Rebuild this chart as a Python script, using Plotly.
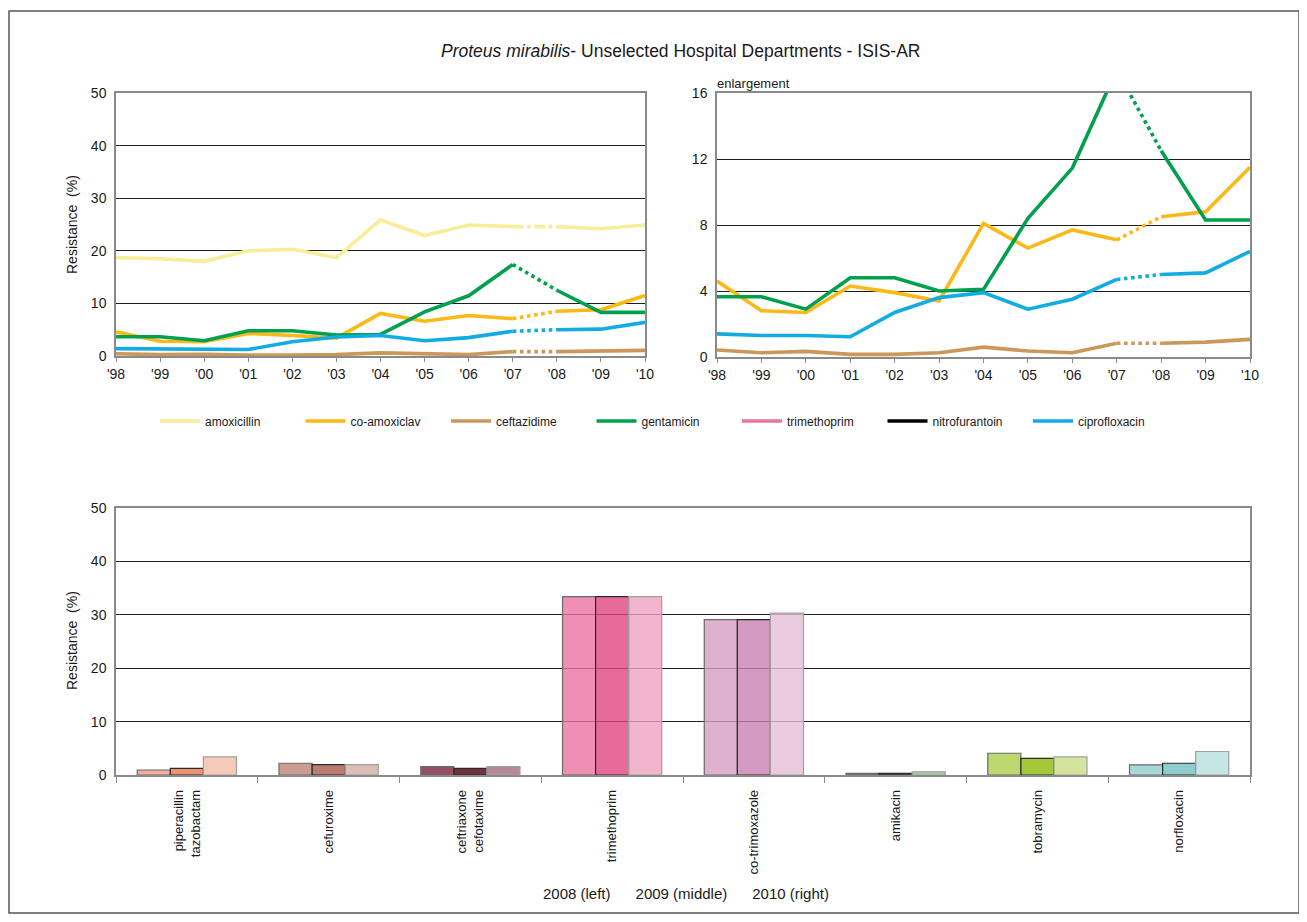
import plotly.graph_objects as go

# page is rendered with an 8px body margin; figure sized so page = 1307x922
W, H = 1291, 906
OFF = 8

# ---------------- data ----------------
years = ["'98", "'99", "'00", "'01", "'02", "'03", "'04", "'05", "'06", "'07", "'08", "'09", "'10"]

amoxicillin = [18.7, 18.5, 18.0, 20.0, 20.3, 18.7, 25.9, 22.9, 24.9, 24.6, 24.6, 24.2, 24.9]
co_amoxiclav = [4.6, 2.8, 2.7, 4.3, 3.9, 3.4, 8.1, 6.6, 7.7, 7.1, 8.5, 8.8, 11.5]
ceftazidime = [0.42, 0.26, 0.34, 0.16, 0.16, 0.26, 0.6, 0.36, 0.26, 0.83, 0.83, 0.9, 1.07]
gentamicin = [3.65, 3.65, 2.9, 4.8, 4.8, 4.0, 4.1, 8.4, 11.45, 17.4, 12.5, 8.3, 8.3]
trimethoprim_trend = []
nitrofurantoin_trend = []
ciprofloxacin = [1.4, 1.3, 1.3, 1.23, 2.7, 3.6, 3.9, 2.9, 3.5, 4.7, 5.0, 5.1, 6.4]

bar_categories = ["piperacillin<br>tazobactam", "cefuroxime", "ceftriaxone<br>cefotaxime",
                  "trimethoprim", "co-trimoxazole", "amikacin", "tobramycin", "norfloxacin"]
res_2008 = [0.94, 2.2, 1.56, 33.4, 29.1, 0.3, 4.07, 1.9]
res_2009 = [1.25, 1.95, 1.25, 33.4, 29.1, 0.3, 3.1, 2.2]
res_2010 = [3.4, 1.95, 1.56, 33.4, 30.3, 0.6, 3.4, 4.4]

# ---------------- styles ----------------
FONT = "Liberation Sans, Arial, sans-serif"
TXT = "#1a1a1a"
AXC = "#8a8a8a"
GRID = "#1e1e1e"

line_series = [
    ("amoxicillin", amoxicillin, "#F6EE98", "dashdot"),
    ("co-amoxiclav", co_amoxiclav, "#FBB917", "dot"),
    ("ceftazidime", ceftazidime, "#CC975A", "dot"),
    ("gentamicin", gentamicin, "#00A04E", "dot"),
    ("trimethoprim", trimethoprim_trend, "#E8739E", "dot"),
    ("nitrofurantoin", nitrofurantoin_trend, "#000000", "dot"),
    ("ciprofloxacin", ciprofloxacin, "#12ACE3", "dot"),
]

col_2008 = ["#F2B09B", "#CC9B8F", "#955068", "#EE8FB3", "#DEB1CF", "#5E7C5A", "#BDD86F", "#A8D8D6"]
col_2009 = ["#EE9275", "#B97C70", "#6E1A3C", "#E86A9B", "#D49AC1", "#4A6A47", "#A4C83A", "#8ECDCB"]
col_2010 = ["#F6CABB", "#DBBFB7", "#B48A99", "#F3B5CE", "#EACBE0", "#A8D0A3", "#D4E49C", "#C6E5E5"]

ALPHA = 0.8


def unblend(hexcol, a=ALPHA):
    h = hexcol.lstrip("#")
    rgb = [int(h[i:i + 2], 16) for i in (0, 2, 4)]
    out = [max(0, min(255, round((c - 255 * (1 - a)) / a))) for c in rgb]
    return "rgba(%d,%d,%d,%.2f)" % (out[0], out[1], out[2], a)


fig = go.Figure()

LW = 3.6
BRK = 9  # index of '07 (data break between '07 and '08)

for axes_idx, (xa, ya) in enumerate([("x", "y"), ("x2", "y2")]):
    for name, vals, color, dash in line_series:
        if axes_idx == 1 and name == "amoxicillin":
            continue
        show = axes_idx == 0
        if len(vals) == 0:
            if show:
                fig.add_trace(go.Scatter(x=[None], y=[None], mode="lines", name=name,
                                         legendgroup=name, showlegend=True,
                                         line=dict(color=color, width=LW), xaxis=xa, yaxis=ya))
            continue
        fig.add_trace(go.Scatter(x=years[:BRK + 1], y=vals[:BRK + 1], mode="lines", name=name,
                                 legendgroup=name, showlegend=show,
                                 line=dict(color=color, width=LW), xaxis=xa, yaxis=ya,
                                 hoverinfo="skip"))
        fig.add_trace(go.Scatter(x=years[BRK:BRK + 2], y=vals[BRK:BRK + 2], mode="lines", name=name,
                                 legendgroup=name, showlegend=False,
                                 line=dict(color=color, width=LW, dash=dash), xaxis=xa, yaxis=ya,
                                 hoverinfo="skip"))
        fig.add_trace(go.Scatter(x=years[BRK + 1:], y=vals[BRK + 1:], mode="lines", name=name,
                                 legendgroup=name, showlegend=False,
                                 line=dict(color=color, width=LW), xaxis=xa, yaxis=ya,
                                 hoverinfo="skip"))

for vals, cols, lc in [(res_2008, col_2008, "#6a6a6a"), (res_2009, col_2009, "#2a2a2a"),
                       (res_2010, col_2010, "#a0a0a0")]:
    fig.add_trace(go.Bar(x=bar_categories, y=vals, xaxis="x3", yaxis="y3", showlegend=False,
                         marker=dict(color=[unblend(c) for c in cols], line=dict(color=lc, width=1.2))))

tickfont = dict(family=FONT, size=14, color=TXT)


def px_x(p):
    return (p - OFF) / W


def px_y(p):
    return 1 - (p - OFF) / H


common_x = dict(type="category", showline=True, linecolor=AXC, linewidth=1.5, mirror=True,
                ticks="outside", ticklen=4, tickcolor=AXC, tickwidth=1, showgrid=False,
                tickfont=tickfont, zeroline=False)
common_y = dict(showline=True, linecolor=AXC, linewidth=1.5, mirror=True, ticks="",
                showgrid=True, gridcolor=GRID, gridwidth=1, zeroline=False, tickfont=tickfont,
                ticklabelstandoff=5)

fig.update_layout(
    width=W, height=H, autosize=False,
    margin=dict(l=0, r=0, t=0, b=0, pad=0, autoexpand=False),
    paper_bgcolor="white", plot_bgcolor="white",
    font=dict(family=FONT, color=TXT),
    barmode="group", bargap=0.3, bargroupgap=0,
    xaxis=dict(common_x, domain=[px_x(116), px_x(645)], anchor="y", range=[0, 12],
               tickvals=years, ticktext=years),
    yaxis=dict(common_y, domain=[px_y(356), px_y(93)], anchor="x", range=[0, 50],
               tickvals=[0, 10, 20, 30, 40, 50]),
    xaxis2=dict(common_x, domain=[px_x(717), px_x(1250)], anchor="y2", range=[0, 12],
                tickvals=years, ticktext=years),
    yaxis2=dict(common_y, domain=[px_y(357), px_y(93)], anchor="x2", range=[0, 16],
                tickvals=[0, 4, 8, 12, 16]),
    xaxis3=dict(showline=True, linecolor=AXC, linewidth=1.5, mirror=True, ticks="outside",
                ticklen=6, tickcolor=AXC, tickson="boundaries", tickangle=-90,
                ticklabelstandoff=8,
                tickfont=dict(family=FONT, size=13, color=TXT), domain=[px_x(116), px_x(1250)],
                anchor="y3", showgrid=False),
    yaxis3=dict(common_y, domain=[px_y(775), px_y(508)], anchor="x3", range=[0, 50],
                tickvals=[0, 10, 20, 30, 40, 50]),
    legend=dict(orientation="h", x=px_x(155), xanchor="left", y=px_y(421), yanchor="middle",
                font=dict(family=FONT, size=12, color=TXT), entrywidth=90.5, entrywidthmode="pixels",
                bgcolor="rgba(0,0,0,0)", itemwidth=40, tracegroupgap=0),
    showlegend=True,
)

fig.add_annotation(text="<i>Proteus mirabilis</i>- Unselected Hospital Departments - ISIS-AR",
                   x=px_x(681), y=px_y(51), xref="paper", yref="paper", showarrow=False,
                   font=dict(family=FONT, size=17.5, color=TXT), xanchor="center", yanchor="middle")
fig.add_annotation(text="enlargement", x=0, y=1, xref="x2 domain", yref="y2 domain",
                   showarrow=False, xanchor="left", yanchor="bottom", xshift=-2,
                   font=dict(family=FONT, size=13, color=TXT))
fig.add_annotation(text="Resistance\u00a0\u00a0(%)", x=px_x(72), y=px_y(225), xref="paper", yref="paper",
                   textangle=-90, showarrow=False, xanchor="center", yanchor="middle",
                   font=dict(family=FONT, size=14, color=TXT))
fig.add_annotation(text="Resistance\u00a0\u00a0(%)", x=px_x(72), y=px_y(641), xref="paper", yref="paper",
                   textangle=-90, showarrow=False, xanchor="center", yanchor="middle",
                   font=dict(family=FONT, size=14, color=TXT))
fig.add_annotation(text="2008 (left)\u00a0\u00a0\u00a0\u00a0\u00a0 2009 (middle)\u00a0\u00a0\u00a0\u00a0\u00a0 2010 (right)",
                   x=px_x(686), y=px_y(893), xref="paper", yref="paper", showarrow=False,
                   xanchor="center", yanchor="middle",
                   font=dict(family=FONT, size=15, color=TXT))

fig.add_shape(type="rect", xref="paper", yref="paper", x0=px_x(9), x1=px_x(1299),
              y0=px_y(913), y1=px_y(11), line=dict(color="#555555", width=1.5), layer="below")

fig.write_html("out.html", config={"displayModeBar": False})
